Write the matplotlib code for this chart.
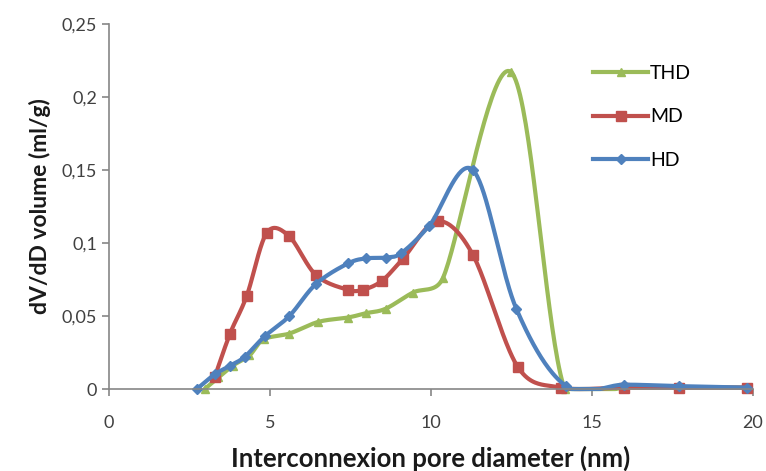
import numpy as np
import matplotlib.pyplot as plt
from matplotlib.lines import Line2D

# pore diameter (nm) and dV/dD (ml/g)
thd_x = [2.97, 3.4, 3.84, 4.36, 4.8, 5.6, 6.5, 7.42, 7.99, 8.59, 9.43, 10.37, 12.49, 14.15, 16.0, 17.7, 19.8]
thd_y = [0.0, 0.008, 0.016, 0.023, 0.034, 0.038, 0.046, 0.049, 0.052, 0.055, 0.066, 0.076, 0.217, 0.0, 0.001, 0.001, 0.001]

md_x = [3.28, 3.76, 4.28, 4.90, 5.58, 6.43, 7.42, 7.88, 8.47, 9.12, 10.21, 11.30, 12.70, 14.04, 16.0, 17.7, 19.8]
md_y = [0.008, 0.038, 0.064, 0.107, 0.105, 0.078, 0.068, 0.068, 0.074, 0.089, 0.115, 0.092, 0.015, 0.001, 0.001, 0.001, 0.001]

hd_x = [2.73, 3.28, 3.76, 4.21, 4.83, 5.6, 6.43, 7.42, 7.99, 8.59, 9.07, 9.95, 11.3, 12.65, 14.2, 16.0, 17.7, 19.8]
hd_y = [0.0, 0.01, 0.016, 0.022, 0.036, 0.05, 0.072, 0.086, 0.0895, 0.09, 0.093, 0.112, 0.150, 0.055, 0.002, 0.003, 0.002, 0.001]

labels = ["THD", "MD", "HD"]
colors = ["#9BBB59", "#C0504D", "#4F81BD"]
markers = ["^", "s", "D"]
msizes = [6, 6.5, 5]

x_ticks = [0, 5, 10, 15, 20]
y_ticks = [0, 0.05, 0.1, 0.15, 0.2, 0.25]
y_labels = ["0", "0,05", "0,1", "0,15", "0,2", "0,25"]


def smooth(xs, ys, sx, sy, n=40):
    """Excel-like bezier smoothing, computed in screen units."""
    p = np.column_stack([np.array(xs) * sx, np.array(ys) * sy])
    out = [p[0]]
    t = np.linspace(0, 1, n)[1:, None]
    for i in range(len(p) - 1):
        p0 = p[i - 1] if i > 0 else p[i]
        p1, p2 = p[i], p[i + 1]
        p3 = p[i + 2] if i + 2 < len(p) else p[i + 1]
        d02 = np.hypot(*(p2 - p0))
        d12 = np.hypot(*(p2 - p1))
        d13 = np.hypot(*(p3 - p1))
        f0 = 1 / 6 if d02 / 6 < d12 / 2 else d12 / (2 * d02)
        f1 = 1 / 6 if d13 / 6 < d12 / 2 else d12 / (2 * d13)
        c1 = p1 + f0 * (p2 - p0)
        c2 = p2 - f1 * (p3 - p1)
        seg = (1 - t) ** 3 * p1 + 3 * (1 - t) ** 2 * t * c1 + 3 * (1 - t) * t ** 2 * c2 + t ** 3 * p2
        out.extend(seg)
    out = np.array(out)
    # the plot area cuts off anything under the x axis
    return out[:, 0] / sx, np.maximum(out[:, 1] / sy, 0)


plt.rcParams['font.family'] = ['Lato', 'DejaVu Sans']

fig = plt.figure(figsize=(7.66, 4.71), dpi=100)
ax = fig.add_axes([0.1423, 0.174, 0.8407, 0.775])
ax.set_xlim(0, 20)
ax.set_ylim(0, 0.25)

# pixel scale of the axes, so the smoothing matches screen proportions
sx = 0.8407 * 766 / 20
sy = 0.775 * 471 / 0.25

series = [(thd_x, thd_y), (md_x, md_y), (hd_x, hd_y)]
handles = []
for (xs, ys), lab, c, m, ms in zip(series, labels, colors, markers, msizes):
    cx, cy = smooth(xs, ys, sx, sy)
    ax.plot(cx, cy, color=c, lw=3, solid_capstyle='round', clip_on=False)
    ax.plot(xs, ys, linestyle='none', marker=m, color=c, markersize=ms, clip_on=False)
    handles.append(Line2D([], [], color=c, lw=3, marker=m, markersize=ms))

for s in ["top", "right"]:
    ax.spines[s].set_visible(False)
for s in ["left", "bottom"]:
    ax.spines[s].set_color("#868686")
    ax.spines[s].set_linewidth(1.2)

ax.set_xticks(x_ticks)
ax.set_yticks(y_ticks)
ax.set_yticklabels(y_labels)
ax.tick_params(colors="#868686", labelcolor="#404040", labelsize=13, length=5, width=1.2)
ax.tick_params(axis="x", pad=14)

ax.set_xlabel("Interconnexion pore diameter (nm)", fontsize=18.5, fontweight="bold",
              color="#1a1a1a", labelpad=10)
ax.set_ylabel("dV/dD volume (ml/g)", fontsize=16.5, fontweight="bold",
              color="#1a1a1a", labelpad=8)

ax.legend(handles, labels, loc="upper left", bbox_to_anchor=(0.725, 0.935),
          frameon=False, fontsize=14, handlelength=2.8, labelspacing=1.35,
          handletextpad=0.1)

fig.savefig("out.png", dpi=100)
